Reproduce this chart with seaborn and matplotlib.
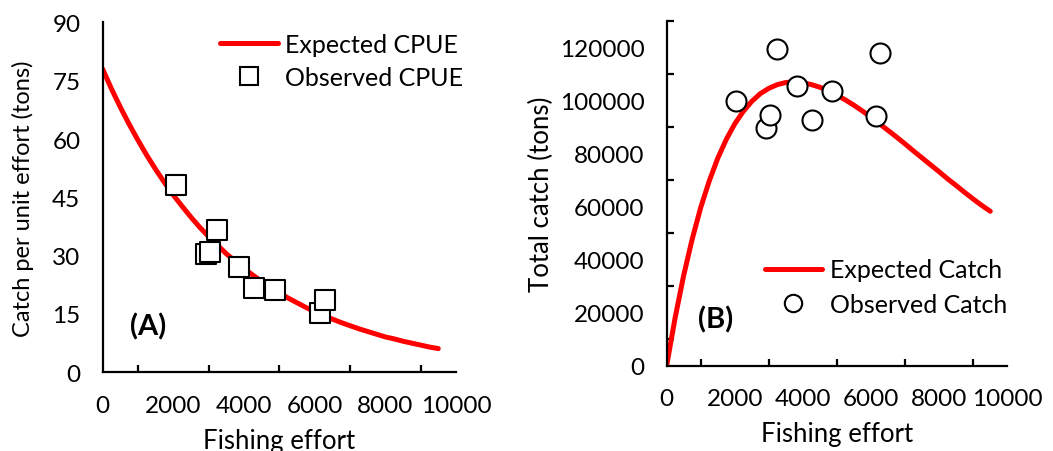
import matplotlib
matplotlib.use("Agg")
import matplotlib.pyplot as plt
import seaborn as sns
import pandas as pd
from matplotlib.lines import Line2D
from matplotlib.ticker import MultipleLocator

# ---- data ----
curve_effort = [0, 250, 500, 750, 1000, 1250, 1500, 1750, 2000, 2250,
                2500, 2750, 3000, 3250, 3500, 3750, 4000, 4250, 4500, 4750,
                5000, 5250, 5500, 5750, 6000, 6250, 6500, 6750, 7000, 7250,
                7500, 7750, 8000, 8250, 8500, 8750, 9000, 9250, 9500]
curve_cpue = [78.0, 72.9, 68.2, 63.8, 59.7, 55.8, 52.2, 48.8, 45.6, 42.7,
              39.9, 37.3, 34.9, 32.7, 30.5, 28.6, 26.7, 25.0, 23.4, 21.8,
              20.4, 19.1, 17.9, 16.7, 15.6, 14.6, 13.7, 12.8, 12.0, 11.2,
              10.5, 9.8, 9.1, 8.6, 8.0, 7.5, 7.0, 6.5, 6.1]
curve_catch = [0, 18200, 34100, 47800, 59700, 69700, 78300, 85400, 91300, 96000,
               99800, 102700, 104700, 106100, 106900, 107100, 106800, 106100, 105100, 103800,
               102100, 100300, 98300, 96100, 93800, 91300, 88800, 86300, 83700, 81000,
               78400, 75800, 73200, 70500, 68000, 65400, 62900, 60500, 58300]

obs_effort_a = [2066, 2924, 3037, 3245, 3858, 4283, 4877, 6151, 6292]
obs_cpue = [48.2, 30.4, 31.0, 36.7, 27.2, 21.6, 21.2, 15.2, 18.7]

obs_effort_b = [2034, 2906, 3032, 3229, 3834, 4256, 4862, 6134, 6261]
obs_catch = [100100, 89800, 94800, 119600, 105500, 92700, 103700, 94400, 118000]

sns.set_style("white")
plt.rcParams['font.family'] = ['Lato', 'DejaVu Sans']
plt.rcParams['text.color'] = 'black'
plt.rcParams['axes.labelcolor'] = 'black'

curve_df = pd.DataFrame({"effort": curve_effort, "cpue": curve_cpue, "catch": curve_catch})
obs_a = pd.DataFrame({"effort": obs_effort_a, "cpue": obs_cpue})
obs_b = pd.DataFrame({"effort": obs_effort_b, "catch": obs_catch})

fig = plt.figure(figsize=(10.53, 4.52), dpi=100)
ax1 = fig.add_axes([0.0975, 0.1741, 0.3355, 0.774])
ax2 = fig.add_axes([0.6331, 0.1887, 0.3235, 0.762])

RED = "#ff0000"
LW = 3.6
TICK_FS = 17.5
LAB_FS = 18.5
LEG_FS = 18

sns.lineplot(data=curve_df, x="effort", y="cpue", ax=ax1, color=RED, linewidth=LW,
             zorder=2, solid_capstyle="round")
sns.scatterplot(data=obs_a, x="effort", y="cpue", ax=ax1, marker="s", s=14.4**2,
                facecolor="white", edgecolor="black", linewidth=1.5, zorder=3)

sns.lineplot(data=curve_df, x="effort", y="catch", ax=ax2, color=RED, linewidth=LW,
             zorder=2, solid_capstyle="round")
sns.scatterplot(data=obs_b, x="effort", y="catch", ax=ax2, marker="o", s=14.4**2,
                facecolor="white", edgecolor="black", linewidth=1.5, zorder=3)

for ax in (ax1, ax2):
    for s in ("top", "right"):
        ax.spines[s].set_visible(False)
    for s in ("left", "bottom"):
        ax.spines[s].set_linewidth(1.6)
        ax.spines[s].set_color("black")
    ax.set_xlim(0, 10000)
    ax.xaxis.set_major_locator(MultipleLocator(2000))
    ax.xaxis.set_minor_locator(MultipleLocator(1000))
    ax.tick_params(which="major", direction="inout", length=12, width=1.6,
                   labelsize=TICK_FS, pad=10, colors="black")
    ax.tick_params(which="minor", direction="in", length=5, width=1.6, colors="black")
    ax.tick_params(axis="x", which="minor", bottom=True)
    ax.set_xlabel("Fishing effort", fontsize=LAB_FS, labelpad=9)

ax1.set_ylim(0, 90)
ax1.yaxis.set_major_locator(MultipleLocator(15))
ax1.set_ylabel("Catch per unit effort (tons)", fontsize=17, labelpad=13)
ax1.text(770, 11.9, "(A)", fontsize=21, fontweight="bold", va="center", ha="left")

ax2.set_ylim(0, 130000)
ax2.yaxis.set_major_locator(MultipleLocator(20000))
ax2.yaxis.set_minor_locator(MultipleLocator(10000))
ax2.tick_params(axis="y", which="minor", left=True)
ax2.set_ylabel("Total catch (tons)", fontsize=LAB_FS, labelpad=4)
ax2.text(920, 17600, "(B)", fontsize=21, fontweight="bold", va="center", ha="left")

h1 = [Line2D([], [], color=RED, linewidth=LW),
      Line2D([], [], marker="s", linestyle="none", markersize=12.5,
             markerfacecolor="white", markeredgecolor="black", markeredgewidth=1.5)]
ax1.legend(h1, ["Expected CPUE", "Observed CPUE"], loc="upper right",
           bbox_to_anchor=(1.085, 1.035), frameon=False, fontsize=LEG_FS,
           handlelength=2.3, handletextpad=0.3, labelspacing=0.4)

h2 = [Line2D([], [], color=RED, linewidth=LW),
      Line2D([], [], marker="o", linestyle="none", markersize=12.5,
             markerfacecolor="white", markeredgecolor="black", markeredgewidth=1.5)]
ax2.legend(h2, ["Expected Catch", "Observed Catch"], loc="lower right",
           bbox_to_anchor=(1.065, 0.08), frameon=False, fontsize=LEG_FS,
           handlelength=2.3, handletextpad=0.3, labelspacing=0.45)

fig.savefig("out.png", dpi=100)
